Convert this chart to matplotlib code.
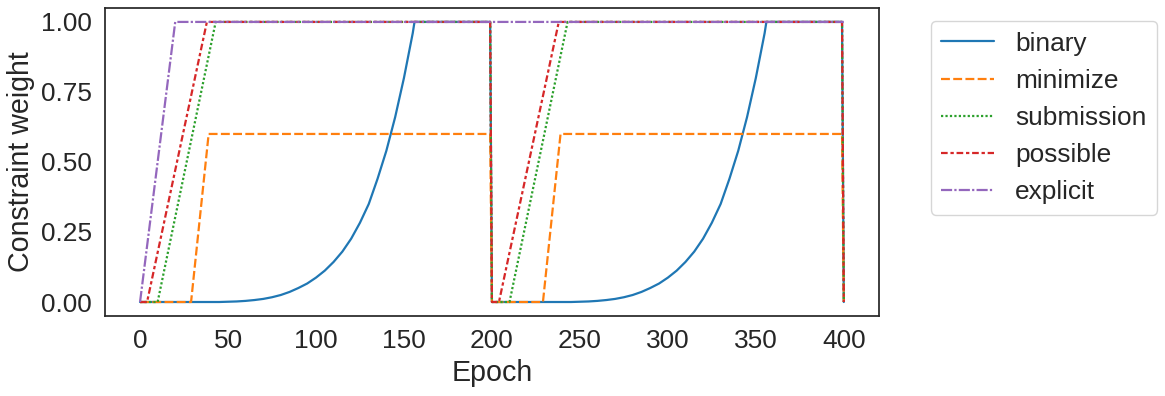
import matplotlib
matplotlib.use('Agg')
import matplotlib.pyplot as plt
import seaborn as sns

sns.set_theme(style='white', font_scale=1.72)
plt.rcParams['font.family'] = ['Liberation Sans', 'DejaVu Sans']

# constraint weight schedules (two cycles of 200 epochs)
binary_epoch = [0, 40, 45, 50, 55, 60, 65, 70, 75, 80, 85, 90, 95, 100, 105, 110,
                115, 120, 125, 130, 135, 140, 145, 150, 155, 156, 199,
                200, 240, 245, 250, 255, 260, 265, 270, 275, 280, 285, 290, 295, 300,
                305, 310, 315, 320, 325, 330, 335, 340, 345, 350, 355, 356, 399, 400]
binary_val = [0, 0, 0.0, 0.001, 0.002, 0.004, 0.007, 0.011, 0.017, 0.025, 0.036, 0.05,
              0.066, 0.087, 0.112, 0.143, 0.18, 0.226, 0.283, 0.35, 0.44, 0.54, 0.66,
              0.80, 0.96, 1.0, 1.0,
              0, 0, 0.0, 0.001, 0.002, 0.004, 0.007, 0.011, 0.017, 0.025, 0.036, 0.05,
              0.066, 0.087, 0.112, 0.143, 0.18, 0.226, 0.283, 0.35, 0.44, 0.54, 0.66,
              0.80, 0.96, 1.0, 1.0, 0]

minimize_epoch = [0, 29, 39, 199, 200, 229, 239, 399, 400]
minimize_val = [0, 0, 0.6, 0.6, 0, 0, 0.6, 0.6, 0]

submission_epoch = [0, 10, 43, 199, 200, 210, 243, 399, 400]
submission_val = [0, 0, 1, 1, 0, 0, 1, 1, 0]

possible_epoch = [0, 4, 38, 199, 200, 204, 238, 399, 400]
possible_val = [0, 0, 1, 1, 0, 0, 1, 1, 0]

explicit_epoch = [0, 20, 400]
explicit_val = [0, 1, 1]

fig, ax = plt.subplots(figsize=(11.65, 3.96), dpi=100)
pal = sns.color_palette('tab10')

ax.plot(binary_epoch, binary_val, color=pal[0], lw=1.6, label='binary')
ax.plot(minimize_epoch, minimize_val, color=pal[1], lw=1.6, dashes=(4, 1.5), label='minimize')
ax.plot(submission_epoch, submission_val, color=pal[2], lw=1.6, dashes=(1, 1), label='submission')
ax.plot(possible_epoch, possible_val, color=pal[3], lw=1.6, dashes=(3, 1.25, 1.5, 1.25), label='possible')
ax.plot(explicit_epoch, explicit_val, color=pal[4], lw=1.6, dashes=(5, 1, 1, 1), label='explicit')

ax.set_xticks([0, 50, 100, 150, 200, 250, 300, 350, 400])
ax.set_yticks([0, 0.25, 0.5, 0.75, 1.0])
ax.set_xlabel('Epoch')
ax.set_ylabel('Constraint weight')
ax.legend(loc='upper left', bbox_to_anchor=(1.05, 1))

plt.subplots_adjust(left=0.09, right=0.7545, top=0.98, bottom=0.202)
plt.savefig('out.png')
